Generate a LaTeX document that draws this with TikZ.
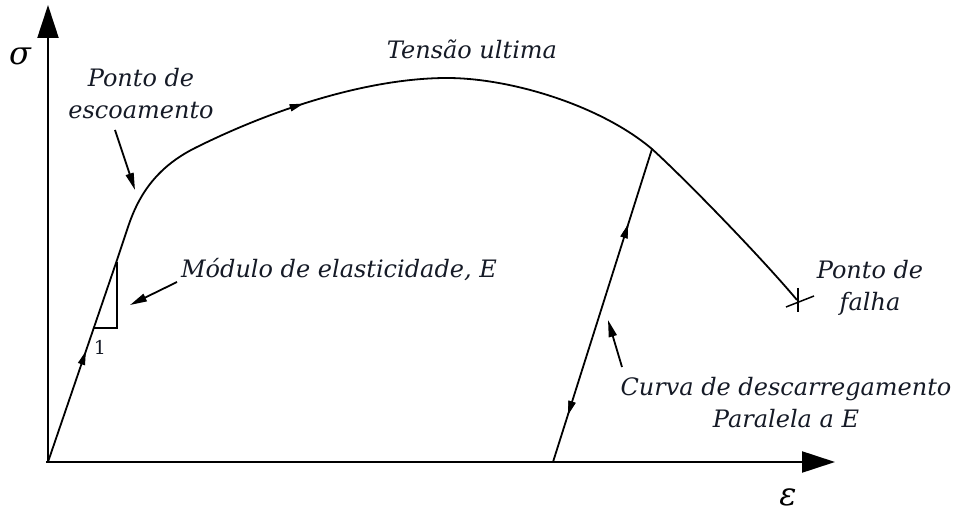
\documentclass[tikz,border=0pt]{standalone}
\usepackage{fontspec}
\setmainfont{DejaVu Serif}
\usetikzlibrary{arrows.meta,decorations.markings}
\definecolor{txt}{HTML}{151A26}
\begin{document}
\begin{tikzpicture}[x=1pt,y=-1pt,
  lbl/.style={font=\itshape\fontsize{24}{32}\selectfont, text=txt, inner sep=0pt, align=center},
  axis/.style={line width=2.2pt, -{Triangle[length=33pt,width=21pt]}},
  curve/.style={line width=1.8pt},
  pointer/.style={line width=1.8pt, -{Triangle[length=17pt,width=8pt]}},
  midarrow/.style={postaction={decorate},
    decoration={markings, mark=at position #1 with {\arrow{Triangle[length=14pt,width=7pt]}}}},
  midback/.style={postaction={decorate},
    decoration={markings, mark=at position #1 with {\arrowreversed{Triangle[length=14pt,width=7pt]}}}}
]
\useasboundingbox (0,0) rectangle (962,513);
% coordinates
\coordinate (O) at (48,462);
\coordinate (ytop) at (48,5);
\coordinate (xend) at (835,462);
\coordinate (Y) at (117,260);
\coordinate (K) at (128,227);
\coordinate (U0) at (553,462);
\coordinate (U1) at (652,149);
\coordinate (F) at (797,300);
% axes
\draw[axis] (O) -- (ytop);
\draw[axis] (46,462) -- (xend);
\node[font=\itshape\fontsize{32}{32}\selectfont] (sig) at (20,56) {σ};
\node[font=\itshape\fontsize{32}{32}\selectfont] (eps) at (788,497) {ε};
% elastic line
\draw[curve, midarrow=0.55] (O) -- (Y);
% main curve
\draw[curve, midarrow=0.31] (Y) -- (K)
  .. controls (138,197) and (155,168) .. (195,148)
  .. controls (275,108) and (370,78) .. (447,78)
  .. controls (510,78) and (600,105) .. (U1)
  .. controls (685,179) and (760,256) .. (F);
% triangle
\draw[line width=1.6pt] (117,262) -- (117,328) -- (94,328);
\node[font=\fontsize{19}{19}\selectfont, text=txt] (one) at (100,347) {1};
% unloading line
\draw[curve, midarrow=0.76, midback=0.15] (U0) -- (U1);
% failure cross
\draw[line width=1.5pt] (798,288) -- (798,312);
\draw[line width=1.5pt] (786,307) -- (814,296);
% labels
\node[lbl] (esc) at (141,94) {Ponto de\\escoamento};
\node[lbl] (ult) at (472,49) {Tensão ultima};
\node[lbl] (mod) at (339,270) {Módulo de elasticidade, E};
\node[lbl] (fal) at (870,288) {Ponto de\\falha};
\node[lbl] (cur) at (786,403) {Curva de descarregamento\\Paralela a E};
% pointers
\coordinate (pe) at (135,190);
\coordinate (pm) at (130,305);
\coordinate (pc) at (608,320);
\draw[pointer] (115,130) -- (pe);
\draw[pointer] (177,282) -- (pm);
\draw[pointer] (622,367) -- (pc);
\end{tikzpicture}
\end{document}
